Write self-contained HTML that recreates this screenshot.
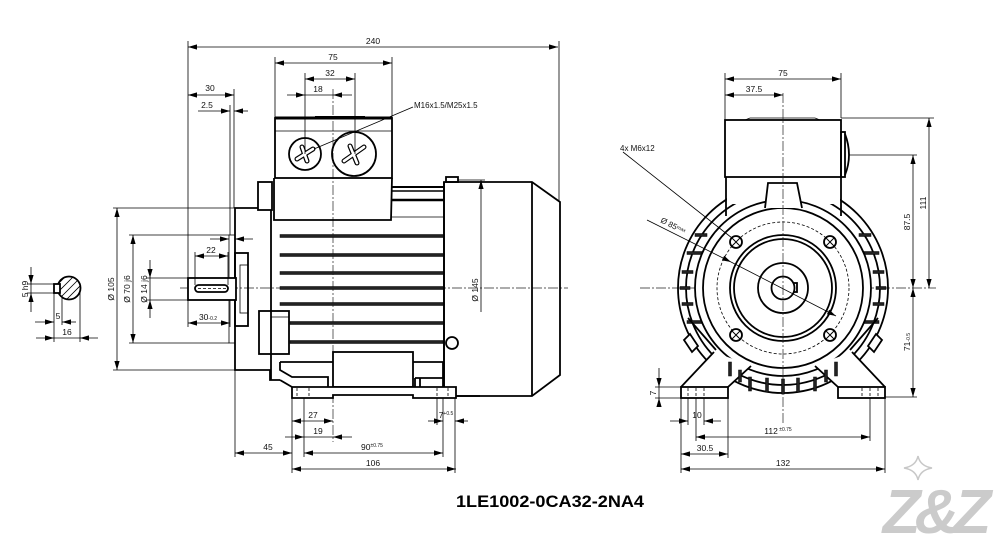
<!DOCTYPE html>
<html><head><meta charset="utf-8"><style>
html,body{margin:0;padding:0;background:#fff;}
svg{display:block;}
text{font-family:"Liberation Sans",sans-serif;font-size:8.5px;fill:#111;}
.o{stroke:#000;stroke-width:1.8;fill:none}
.ow{stroke:#000;stroke-width:1.8;fill:#fff}
.t{stroke:#000;stroke-width:0.8;fill:none}
.c{stroke:#222;stroke-width:0.7;stroke-dasharray:10 2 2 2;fill:none}
.d{stroke:#000;stroke-width:0.8;stroke-dasharray:3 2;fill:none}
.f{fill:#222;stroke:#000;stroke-width:0.5}
.sm{font-size:5px}
</style></head><body>
<svg width="998" height="538" viewBox="0 0 998 538" xmlns="http://www.w3.org/2000/svg">
<defs>
<marker id="a" markerUnits="userSpaceOnUse" markerWidth="9" markerHeight="6" refX="9" refY="3" orient="auto-start-reverse"><path d="M0,0.4 L9,3 L0,5.6z" fill="#000"/></marker>
<clipPath id="sc"><circle cx="69" cy="288" r="11.5"/></clipPath>
</defs>

<!-- ============ SHAFT SECTION DETAIL ============ -->
<g clip-path="url(#sc)" class="t">
<path d="M50,300 L75,275 M54,304 L79,279 M58,308 L83,283 M62,312 L87,287 M66,316 L91,291 M46,296 L71,271 M42,292 L67,267"/>
</g>
<circle cx="69" cy="288" r="11.5" class="o"/>
<rect x="54" y="284" width="6" height="9" class="ow"/>
<g class="t">
<line x1="31" y1="267" x2="31" y2="284" marker-end="url(#a)"/>
<line x1="31" y1="312" x2="31" y2="293" marker-end="url(#a)"/>
<line x1="31" y1="284" x2="31" y2="293"/>
<line x1="27" y1="284" x2="54" y2="284"/><line x1="27" y1="293" x2="54" y2="293"/>
<line x1="54" y1="293" x2="54" y2="342"/><line x1="62" y1="297" x2="62" y2="325"/><line x1="80" y1="292" x2="80" y2="342"/>
<line x1="35" y1="322" x2="54" y2="322" marker-end="url(#a)"/>
<line x1="76" y1="322" x2="62" y2="322" marker-end="url(#a)"/>
<line x1="36" y1="338" x2="54" y2="338" marker-end="url(#a)"/>
<line x1="98" y1="338" x2="80" y2="338" marker-end="url(#a)"/>
<line x1="54" y1="338" x2="80" y2="338"/>
</g>
<text transform="rotate(-90 28 289)" x="28" y="289" text-anchor="middle">5 h9</text>
<text x="58" y="319" text-anchor="middle">5</text>
<text x="67" y="335" text-anchor="middle">16</text>

<!-- ============ SIDE VIEW ============ -->
<!-- centerlines -->
<line x1="180" y1="288" x2="568" y2="288" class="c"/>
<line x1="333" y1="89" x2="333" y2="442" class="c"/>

<!-- terminal box -->
<rect x="275" y="118" width="117" height="60" class="o"/>
<line x1="275" y1="118" x2="392" y2="118" stroke="#000" stroke-width="3"/>
<line x1="315" y1="117" x2="365" y2="117" stroke="#000" stroke-width="2"/>
<line x1="275" y1="131" x2="392" y2="131" class="t"/>
<path d="M274,178 L274,220 L391,220 L392,178" class="o"/>
<circle cx="305" cy="154" r="16" class="o"/>
<circle cx="354" cy="154" r="22" class="o"/>
<g stroke="#000" stroke-width="5" stroke-linecap="round"><line x1="297" y1="159" x2="313" y2="149"/><line x1="302" y1="147" x2="307" y2="161"/>
<line x1="344" y1="161" x2="364" y2="147"/><line x1="350" y1="146" x2="357" y2="163"/></g>
<g stroke="#fff" stroke-width="2.6" stroke-linecap="round"><line x1="297" y1="159" x2="313" y2="149"/><line x1="302" y1="147" x2="307" y2="161"/>
<line x1="344" y1="161" x2="364" y2="147"/><line x1="350" y1="146" x2="357" y2="163"/></g>
<line x1="413" y1="107" x2="314" y2="149" class="t"/>
<text x="414" y="108" style="font-size:8px">M16x1.5/M25x1.5</text>

<!-- flange, boss, shaft -->
<rect x="258" y="182" width="14" height="28" class="o"/>
<path d="M258,208 L235,208 L235,370 L270,370 L270,380 L280,380" class="o"/>
<line x1="271" y1="210" x2="271" y2="380" class="o"/>
<rect x="229" y="235" width="6" height="108" class="t" stroke-width="1.2"/>
<rect x="235" y="253" width="13" height="73" class="o"/>
<rect x="240" y="265" width="8" height="48" class="t" stroke-width="1.2"/>
<rect x="188" y="278" width="48" height="22" class="ow"/>
<rect x="195" y="285" width="33" height="7" rx="3.5" class="o" stroke-width="1.4"/>
<line x1="198" y1="288.5" x2="226" y2="288.5" class="d"/>
<rect x="259" y="311" width="30" height="43" class="o"/>
<line x1="271" y1="317" x2="289" y2="317" class="t"/>

<!-- housing body -->
<path d="M392,217 L444,217" class="t"/>
<line x1="392" y1="187" x2="444" y2="187" stroke="#000" stroke-width="2"/>
<line x1="392" y1="191" x2="444" y2="191" stroke="#000" stroke-width="1.4"/>
<line x1="392" y1="200" x2="444" y2="200" stroke="#000" stroke-width="2.4"/>
<g class="f">
<rect x="280" y="234.5" width="164" height="3"/>
<rect x="280" y="253.5" width="164" height="3"/>
<rect x="280" y="271.5" width="164" height="3"/>
<rect x="280" y="286.5" width="164" height="3"/>
<rect x="280" y="302.5" width="164" height="3"/>
<rect x="290" y="321.5" width="154" height="3"/>
<rect x="290" y="340.5" width="153" height="3"/>
</g>
<path d="M444,182 L532,182 L560,202 L560,375 L532,396 L444,396 Z" class="o"/>
<line x1="444" y1="182" x2="444" y2="396" class="o"/>
<line x1="532" y1="182" x2="532" y2="396" class="o"/>
<rect x="446" y="177" width="12" height="5" class="o" stroke-width="1.3"/>
<circle cx="452" cy="343" r="6" class="ow"/>

<!-- feet side -->
<rect x="333" y="352" width="80" height="35" class="o"/>
<path d="M280,362 L333,362 M280,362 L280,370 L292,377 L328,377 L328,387 M280,380 L292,387 M413,362 L443,362 L443,387 M415,378 L443,378 M420,378 L420,387 M415,378 L415,387" class="o" stroke-width="1.5"/>
<path d="M292,387 L292,398 L333,398 L333,395 L413,395 L413,398 L456,398 L456,387 Z" class="ow"/>
<line x1="456" y1="396" x2="480" y2="396" stroke="#000" stroke-width="1.8"/>
<g class="d"><line x1="297" y1="388" x2="297" y2="397"/><line x1="309" y1="388" x2="309" y2="397"/><line x1="437" y1="388" x2="437" y2="397"/><line x1="448" y1="388" x2="448" y2="397"/></g>

<!-- side dims -->
<g class="t">
<line x1="188" y1="47" x2="558" y2="47" marker-start="url(#a)" marker-end="url(#a)"/>
<line x1="188" y1="41" x2="188" y2="327"/>
<line x1="559" y1="41" x2="559" y2="202"/>
<line x1="188" y1="95" x2="234" y2="95" marker-start="url(#a)" marker-end="url(#a)"/>
<line x1="234" y1="89" x2="234" y2="208"/>
<line x1="198" y1="111" x2="230" y2="111" marker-end="url(#a)"/>
<line x1="248" y1="111" x2="234" y2="111" marker-end="url(#a)"/>
<line x1="230" y1="105" x2="230" y2="235"/>
<line x1="275" y1="63" x2="392" y2="63" marker-start="url(#a)" marker-end="url(#a)"/>
<line x1="275" y1="57" x2="275" y2="118"/><line x1="392" y1="57" x2="392" y2="118"/>
<line x1="305" y1="79" x2="355" y2="79" marker-start="url(#a)" marker-end="url(#a)"/>
<line x1="305" y1="73" x2="305" y2="154"/><line x1="355" y1="73" x2="355" y2="154"/>
<line x1="287" y1="95" x2="305" y2="95" marker-end="url(#a)"/>
<line x1="352" y1="95" x2="333" y2="95" marker-end="url(#a)"/>
<line x1="305" y1="95" x2="333" y2="95"/>
<line x1="117" y1="208" x2="117" y2="370" marker-start="url(#a)" marker-end="url(#a)"/>
<line x1="113" y1="208" x2="235" y2="208"/><line x1="113" y1="370" x2="235" y2="370"/>
<line x1="133" y1="235" x2="133" y2="343" marker-start="url(#a)" marker-end="url(#a)"/>
<line x1="129" y1="235" x2="229" y2="235"/><line x1="129" y1="343" x2="229" y2="343"/>
<line x1="150" y1="260" x2="150" y2="278" marker-end="url(#a)"/>
<line x1="150" y1="318" x2="150" y2="300" marker-end="url(#a)"/>
<line x1="150" y1="278" x2="150" y2="300"/>
<line x1="146" y1="278" x2="188" y2="278"/><line x1="146" y1="300" x2="188" y2="300"/>
<line x1="195" y1="256" x2="228" y2="256" marker-start="url(#a)" marker-end="url(#a)"/>
<line x1="195" y1="252" x2="195" y2="285"/><line x1="228" y1="252" x2="228" y2="285"/>
<line x1="188" y1="323" x2="230" y2="323" marker-start="url(#a)" marker-end="url(#a)"/>
<line x1="230" y1="300" x2="230" y2="327"/>
<line x1="210" y1="239" x2="229" y2="239" marker-end="url(#a)"/>
<line x1="253" y1="239" x2="235" y2="239" marker-end="url(#a)"/>
<line x1="481" y1="312" x2="481" y2="180" marker-end="url(#a)"/>
<line x1="458" y1="180" x2="485" y2="180"/>
<line x1="292" y1="421" x2="333" y2="421" marker-start="url(#a)" marker-end="url(#a)"/>
<line x1="285" y1="437" x2="304" y2="437" marker-end="url(#a)"/>
<line x1="352" y1="437" x2="333" y2="437" marker-end="url(#a)"/>
<line x1="304" y1="437" x2="333" y2="437"/>
<line x1="235" y1="453" x2="292" y2="453" marker-start="url(#a)" marker-end="url(#a)"/>
<line x1="304" y1="453" x2="443" y2="453" marker-start="url(#a)" marker-end="url(#a)"/>
<line x1="292" y1="469" x2="456" y2="469" marker-start="url(#a)" marker-end="url(#a)"/>
<line x1="428" y1="421" x2="443" y2="421" marker-end="url(#a)"/>
<line x1="468" y1="421" x2="455" y2="421" marker-end="url(#a)"/>
<line x1="235" y1="370" x2="235" y2="457"/>
<line x1="292" y1="398" x2="292" y2="473"/>
<line x1="304" y1="398" x2="304" y2="457"/>
<line x1="443" y1="398" x2="443" y2="457"/>
<line x1="455" y1="398" x2="455" y2="473"/>
<line x1="437" y1="398" x2="437" y2="425"/>
</g>
<text x="373" y="44" text-anchor="middle">240</text>
<text x="210" y="91" text-anchor="middle">30</text>
<text x="207" y="108" text-anchor="middle">2.5</text>
<text x="333" y="60" text-anchor="middle">75</text>
<text x="330" y="76" text-anchor="middle">32</text>
<text x="318" y="92" text-anchor="middle">18</text>
<text transform="rotate(-90 114 289)" x="114" y="289" text-anchor="middle">Ø 105</text>
<text transform="rotate(-90 130 289)" x="130" y="289" text-anchor="middle">Ø 70 j6</text>
<text transform="rotate(-90 147 289)" x="147" y="289" text-anchor="middle">Ø 14 j6</text>
<text x="211" y="253" text-anchor="middle">22</text>
<text x="208" y="320" text-anchor="middle">30<tspan class="sm">-0.2</tspan></text>
<text transform="rotate(-90 478 290)" x="478" y="290" text-anchor="middle">Ø 145</text>
<text x="313" y="418" text-anchor="middle">27</text>
<text x="318" y="434" text-anchor="middle">19</text>
<text x="268" y="450" text-anchor="middle">45</text>
<text x="372" y="450" text-anchor="middle">90<tspan class="sm" dy="-3">±0.75</tspan></text>
<text x="373" y="466" text-anchor="middle">106</text>
<text x="446" y="418" text-anchor="middle">7<tspan class="sm" dy="-3">+0.5</tspan></text>

<!-- ============ FRONT VIEW ============ -->
<line x1="640" y1="288" x2="936" y2="288" class="c"/>
<circle cx="783" cy="288" r="105" class="o" stroke-width="1.6"/>
<circle cx="783" cy="288" r="97" class="o" stroke-width="1.6"/>
<rect x="727" y="176" width="113" height="28" fill="#fff"/>
<!-- fins left/right -->
<g class="f">
<rect x="695" y="233.5" width="12" height="3"/><rect x="687" y="251.5" width="15" height="3"/>
<rect x="682" y="270.5" width="11" height="3"/><rect x="680" y="286.5" width="10" height="3"/>
<rect x="682" y="302.5" width="11" height="3"/><rect x="687" y="320.5" width="15" height="3"/>
<rect x="859" y="233.5" width="12" height="3"/><rect x="864" y="251.5" width="15" height="3"/>
<rect x="873" y="270.5" width="11" height="3"/><rect x="876" y="286.5" width="10" height="3"/>
<rect x="873" y="302.5" width="11" height="3"/><rect x="864" y="320.5" width="15" height="3"/>
</g>
<circle cx="783" cy="288" r="88" class="ow" stroke-width="2"/>
<circle cx="783" cy="288" r="80" class="o" stroke-width="2"/>
<circle cx="783" cy="288" r="66" class="d"/>
<circle cx="783" cy="288" r="53" class="o" stroke-width="1.6"/>
<circle cx="783" cy="288" r="49" class="o" stroke-width="1.6"/>
<circle cx="783" cy="288" r="25" class="o" stroke-width="1.6"/>
<rect x="792" y="283" width="5" height="9" class="ow" stroke-width="1.2"/>
<circle cx="783" cy="288" r="11.5" class="ow" stroke-width="2"/>
<!-- terminal box front -->
<rect x="725" y="120" width="116" height="57" class="ow" stroke-width="2"/>
<path d="M745,120 L750,118 L815,118 L820,120" class="t"/>
<rect x="841" y="132" width="4" height="45" class="o" stroke-width="1.4"/>
<path d="M845,134 Q853,155 845,175" class="o" stroke-width="1.6"/>
<line x1="726" y1="177" x2="726" y2="216" class="o"/>
<line x1="841" y1="177" x2="841" y2="216" class="o"/>
<path d="M765,208 L768,183 L797,183 L802,208" class="ow" stroke-width="2"/>
<line x1="783" y1="93" x2="783" y2="425" class="c"/>
<!-- bolts -->
<g class="o" stroke-width="1.5">
<circle cx="736" cy="242" r="6" fill="#fff"/><circle cx="830" cy="242" r="6" fill="#fff"/>
<circle cx="736" cy="335" r="6" fill="#fff"/><circle cx="830" cy="335" r="6" fill="#fff"/>
<path d="M732,238 L740,246 M740,238 L732,246 M826,238 L834,246 M834,238 L826,246 M732,331 L740,339 M740,331 L732,339 M826,331 L834,339 M834,331 L826,339" stroke-width="1"/>
</g>
<!-- lugs and feet -->
<path d="M684,340 L690,334 L698,346 L692,352 Z M1482,340 L1476,334 L1468,346 L1474,352 Z" class="ow" stroke-width="1.4" transform="translate(0,0)"/>
<path d="M882,340 L876,334 L868,346 L874,352 Z" class="ow" stroke-width="1.4"/>
<path d="M681,387 L714,352 L752,366 L728,387 Z" fill="#fff"/>
<path d="M885,387 L852,352 L814,366 L838,387 Z" fill="#fff"/>
<path d="M681,387 L714,352 M728,387 L751,366 M885,387 L852,352 M838,387 L815,366" class="o"/>
<path d="M688,318 L716,350 M878,318 L850,350" class="o" stroke-width="1.4"/>
<rect x="681" y="387" width="47" height="11" class="ow" stroke-width="2"/>
<rect x="838" y="387" width="47" height="11" class="ow" stroke-width="2"/>
<g class="d"><line x1="688" y1="388" x2="688" y2="397"/><line x1="696" y1="388" x2="696" y2="397"/><line x1="704" y1="388" x2="704" y2="397"/>
<line x1="862" y1="388" x2="862" y2="397"/><line x1="870" y1="388" x2="870" y2="397"/><line x1="878" y1="388" x2="878" y2="397"/></g>
<g class="f">
<rect x="748.5" y="377" width="3" height="14"/><rect x="765.5" y="378" width="3" height="14"/>
<rect x="781.5" y="379" width="3" height="15"/><rect x="796.5" y="378" width="3" height="14"/>
<rect x="813.5" y="377" width="3" height="14"/><rect x="728.5" y="362" width="3" height="14"/>
<rect x="834.5" y="362" width="3" height="14"/><rect x="738.5" y="370" width="3" height="12"/><rect x="824.5" y="370" width="3" height="12"/>
</g>
<!-- front dims -->
<g class="t">
<line x1="725" y1="79" x2="841" y2="79" marker-start="url(#a)" marker-end="url(#a)"/>
<line x1="725" y1="73" x2="725" y2="120"/><line x1="841" y1="73" x2="841" y2="118"/>
<line x1="725" y1="95" x2="783" y2="95" marker-start="url(#a)" marker-end="url(#a)"/>
<line x1="929" y1="288" x2="929" y2="118" marker-start="url(#a)" marker-end="url(#a)"/>
<line x1="841" y1="118" x2="934" y2="118"/>
<line x1="913" y1="288" x2="913" y2="155" marker-start="url(#a)" marker-end="url(#a)"/>
<line x1="849" y1="155" x2="917" y2="155"/>
<line x1="913" y1="288" x2="913" y2="397" marker-start="url(#a)" marker-end="url(#a)"/>
<line x1="885" y1="397" x2="917" y2="397"/>
<line x1="659" y1="368" x2="659" y2="387" marker-end="url(#a)"/>
<line x1="659" y1="407" x2="659" y2="398" marker-end="url(#a)"/>
<line x1="659" y1="387" x2="659" y2="398"/>
<line x1="655" y1="387" x2="681" y2="387"/><line x1="655" y1="398" x2="681" y2="398"/>
<line x1="670" y1="421" x2="688" y2="421" marker-end="url(#a)"/>
<line x1="721" y1="421" x2="704" y2="421" marker-end="url(#a)"/>
<line x1="688" y1="398" x2="688" y2="425"/><line x1="704" y1="398" x2="704" y2="425"/>
<line x1="696" y1="437" x2="870" y2="437" marker-start="url(#a)" marker-end="url(#a)"/>
<line x1="681" y1="454" x2="728" y2="454" marker-start="url(#a)" marker-end="url(#a)"/>
<line x1="681" y1="469" x2="885" y2="469" marker-start="url(#a)" marker-end="url(#a)"/>
<line x1="681" y1="398" x2="681" y2="473"/><line x1="696" y1="398" x2="696" y2="441"/>
<line x1="728" y1="398" x2="728" y2="458"/><line x1="870" y1="398" x2="870" y2="441"/>
<line x1="885" y1="398" x2="885" y2="473"/>
<line x1="647" y1="220" x2="731" y2="262" marker-end="url(#a)"/>
<line x1="731" y1="262" x2="836" y2="316" marker-end="url(#a)"/>
<line x1="623" y1="152" x2="732" y2="238"/>
</g>
<text x="783" y="76" text-anchor="middle">75</text>
<text x="754" y="92" text-anchor="middle">37.5</text>
<text transform="rotate(-90 926 203)" x="926" y="203" text-anchor="middle">111</text>
<text transform="rotate(-90 910 222)" x="910" y="222" text-anchor="middle">87.5</text>
<text transform="rotate(-90 910 342)" x="910" y="342" text-anchor="middle">71<tspan class="sm">-0.5</tspan></text>
<text transform="rotate(-90 656 393)" x="656" y="393" text-anchor="middle">7</text>
<text x="697" y="418" text-anchor="middle">10</text>
<text x="778" y="434" text-anchor="middle">112<tspan class="sm" dy="-3"> ±0.75</tspan></text>
<text x="705" y="451" text-anchor="middle">30.5</text>
<text x="783" y="466" text-anchor="middle">132</text>
<text x="620" y="151" style="font-size:8px">4x  M6x12</text>
<text transform="rotate(27 660 222)" x="660" y="222" style="font-size:8px">Ø 85<tspan class="sm" dy="-2">max</tspan></text>

<!-- title -->
<text x="550" y="507" text-anchor="middle" style="font-size:17px;font-weight:bold;fill:#000" textLength="188" lengthAdjust="spacingAndGlyphs">1LE1002-0CA32-2NA4</text>

<!-- logo -->
<path d="M918,456 Q920,466 932,468 Q920,470 918,480 Q916,470 904,468 Q916,466 918,456 Z" fill="none" stroke="#c8c8c8" stroke-width="1.5"/>
<text x="934" y="533" text-anchor="middle" style="font-size:62px;font-weight:bold;font-style:italic;fill:#cbcbcb;letter-spacing:-6px">Z&amp;Z</text>
</svg>
</body></html>
